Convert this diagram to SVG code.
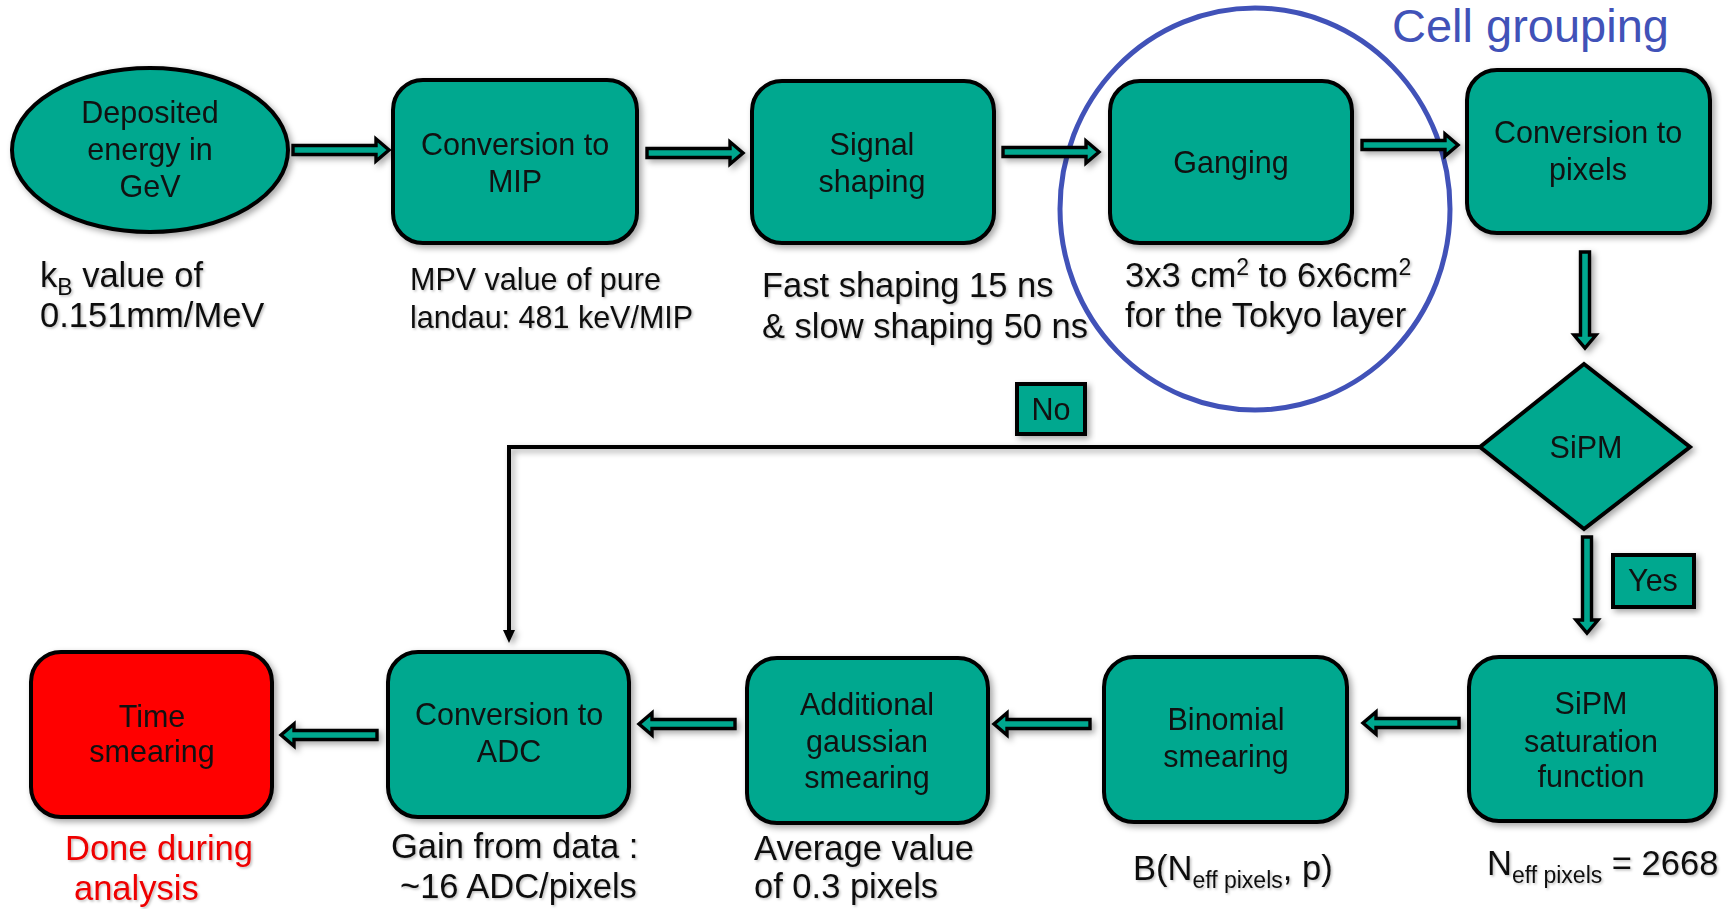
<svg xmlns="http://www.w3.org/2000/svg" xmlns:xlink="http://www.w3.org/1999/xlink" width="1728" height="909" viewBox="0 0 1728 909">
<style>
  .node { fill: #00A88F; stroke: #000; stroke-width: 4; }
  .red { fill: #FF0000; stroke: #000; stroke-width: 4; }
  .t { font-family: "Liberation Sans", Arial, sans-serif; fill: #111; }
  .box { font-size: 30.5px; text-anchor: middle; }
  .ann { font-size: 34.5px; }
  .sub { font-size: 23px; }
  .blue { fill: #4152B8; }
  .redt { fill: #EE0000; }
  .line { fill: none; stroke: #000; stroke-width: 4; }
</style>
<defs>
  <filter id="sh" x="-10%" y="-10%" width="125%" height="130%">
    <feDropShadow dx="3" dy="3" stdDeviation="3" flood-color="#000" flood-opacity="0.35"/>
  </filter>
  <filter id="tsh" x="-5%" y="-20%" width="110%" height="150%">
    <feDropShadow dx="1.5" dy="1.5" stdDeviation="1" flood-color="#000" flood-opacity="0.25"/>
  </filter>
  <path id="barrow" d="M0,-4.5 H83 V-11 L96,0 L83,11 V4.5 H0 Z" fill="#00A88F" stroke="#000" stroke-width="3.4" stroke-linejoin="miter"/>
</defs>

<g id="cell-grouping">
  <ellipse cx="1255" cy="209" rx="195" ry="201" fill="none" stroke="#4152B8" stroke-width="5"/>
  <text class="t blue" x="1392" y="42" font-size="47">Cell grouping</text>
</g>

<g id="connectors" filter="url(#sh)">
  <use xlink:href="#barrow" transform="translate(293,150)"/>
  <use xlink:href="#barrow" transform="translate(647,153)"/>
  <use xlink:href="#barrow" transform="translate(1003,152)"/>
  <use xlink:href="#barrow" transform="translate(1362,145)"/>
  <use xlink:href="#barrow" transform="translate(1585,252) rotate(90)"/>
  <use xlink:href="#barrow" transform="translate(1587,537) rotate(90)"/>
  <use xlink:href="#barrow" transform="translate(1459,723) rotate(180)"/>
  <use xlink:href="#barrow" transform="translate(1090,724) rotate(180)"/>
  <use xlink:href="#barrow" transform="translate(735,724) rotate(180)"/>
  <use xlink:href="#barrow" transform="translate(377,735) rotate(180)"/>
  <path class="line" d="M1482,447 H509 V630"/>
  <path d="M503,630 L515,630 L509,643 Z" fill="#000"/>
</g>

<g id="n-deposited">
  <ellipse class="node" cx="150" cy="150" rx="138" ry="82" filter="url(#sh)"/>
  <text class="t box" x="150" y="123">Deposited</text>
  <text class="t box" x="150" y="160">energy in</text>
  <text class="t box" x="150" y="197">GeV</text>
</g>
<g id="n-mip">
  <rect class="node" x="393" y="80" width="244" height="163" rx="30" filter="url(#sh)"/>
  <text class="t box" x="515" y="155">Conversion to</text>
  <text class="t box" x="515" y="192">MIP</text>
</g>
<g id="n-shaping">
  <rect class="node" x="752" y="81" width="242" height="162" rx="30" filter="url(#sh)"/>
  <text class="t box" x="872" y="155">Signal</text>
  <text class="t box" x="872" y="192">shaping</text>
</g>
<g id="n-ganging">
  <rect class="node" x="1110" y="81" width="242" height="162" rx="30" filter="url(#sh)"/>
  <text class="t box" x="1231" y="173">Ganging</text>
</g>
<g id="n-pixels">
  <rect class="node" x="1467" y="70" width="243" height="163" rx="30" filter="url(#sh)"/>
  <text class="t box" x="1588" y="143">Conversion to</text>
  <text class="t box" x="1588" y="180">pixels</text>
</g>
<g id="n-sipm">
  <polygon class="node" points="1584,364 1690,447 1584,529 1480,447" filter="url(#sh)"/>
  <text class="t box" x="1586" y="458">SiPM</text>
</g>
<g id="l-no">
  <rect class="node" x="1017" y="384" width="68" height="50" filter="url(#sh)"/>
  <text class="t box" x="1051" y="420">No</text>
</g>
<g id="l-yes">
  <rect class="node" x="1613" y="555" width="81" height="52" filter="url(#sh)"/>
  <text class="t box" x="1653" y="591">Yes</text>
</g>
<g id="n-saturation">
  <rect class="node" x="1469" y="657" width="247" height="164" rx="30" filter="url(#sh)"/>
  <text class="t box" x="1591" y="714">SiPM</text>
  <text class="t box" x="1591" y="752">saturation</text>
  <text class="t box" x="1591" y="787">function</text>
</g>
<g id="n-binomial">
  <rect class="node" x="1104" y="657" width="243" height="165" rx="30" filter="url(#sh)"/>
  <text class="t box" x="1226" y="730">Binomial</text>
  <text class="t box" x="1226" y="767">smearing</text>
</g>
<g id="n-gaussian">
  <rect class="node" x="747" y="658" width="241" height="165" rx="30" filter="url(#sh)"/>
  <text class="t box" x="867" y="715">Additional</text>
  <text class="t box" x="867" y="752">gaussian</text>
  <text class="t box" x="867" y="788">smearing</text>
</g>
<g id="n-adc">
  <rect class="node" x="388" y="652" width="241" height="165" rx="30" filter="url(#sh)"/>
  <text class="t box" x="509" y="725">Conversion to</text>
  <text class="t box" x="509" y="762">ADC</text>
</g>
<g id="n-time">
  <rect class="red" x="31" y="652" width="241" height="165" rx="30" filter="url(#sh)"/>
  <text class="t box" x="152" y="727">Time</text>
  <text class="t box" x="152" y="762">smearing</text>
</g>

<g id="annotations" filter="url(#tsh)">
  <text class="t ann" x="40" y="287">k<tspan class="sub" dy="8">B</tspan><tspan dy="-8"> value of</tspan></text>
  <text class="t ann" x="40" y="327">0.151mm/MeV</text>
  <text class="t" font-size="30.5" x="410" y="290">MPV value of pure</text>
  <text class="t" font-size="30.5" x="410" y="328">landau: 481 keV/MIP</text>
  <text class="t ann" x="762" y="297">Fast shaping 15 ns</text>
  <text class="t ann" x="762" y="338">&amp; slow shaping 50 ns</text>
  <text class="t ann" x="1125" y="287">3x3 cm<tspan class="sub" dy="-12">2</tspan><tspan dy="12"> to 6x6cm</tspan><tspan class="sub" dy="-12">2</tspan></text>
  <text class="t ann" x="1125" y="327">for the Tokyo layer</text>
  <text class="t ann redt" x="65" y="860">Done during</text>
  <text class="t ann redt" x="74" y="900">analysis</text>
  <text class="t ann" x="391" y="858">Gain from data :</text>
  <text class="t ann" x="400" y="898">~16 ADC/pixels</text>
  <text class="t ann" x="754" y="860">Average value</text>
  <text class="t ann" x="754" y="898">of 0.3 pixels</text>
  <text class="t ann" x="1133" y="880">B(N<tspan class="sub" dy="8">eff pixels</tspan><tspan dy="-8">, p)</tspan></text>
  <text class="t ann" x="1487" y="875">N<tspan class="sub" dy="8">eff pixels</tspan><tspan dy="-8"> = 2668</tspan></text>
</g>
</svg>
